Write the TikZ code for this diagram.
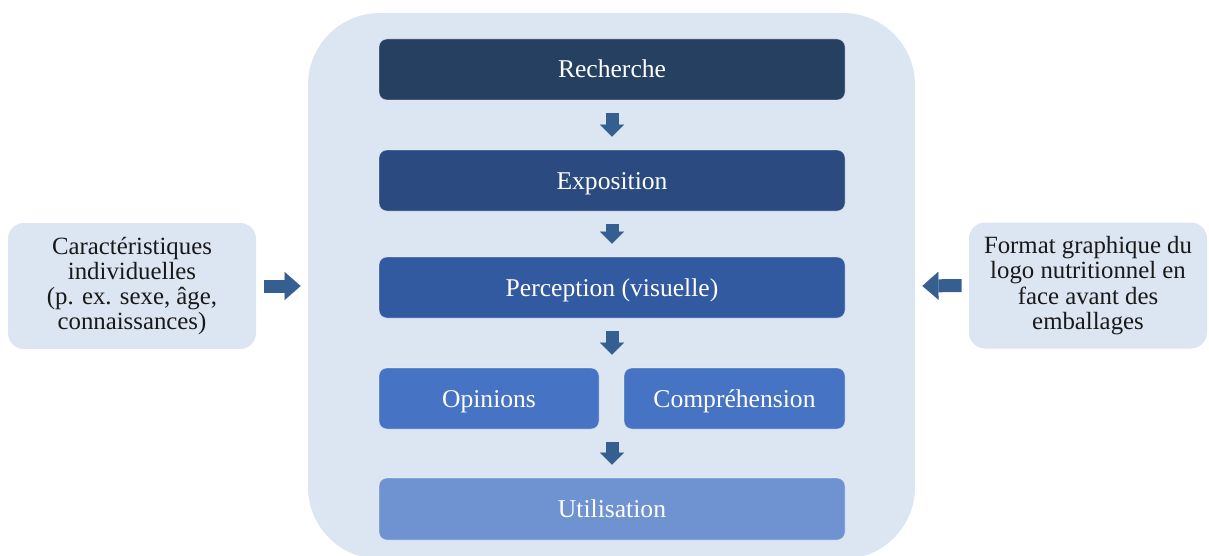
\documentclass[tikz,border=0pt]{standalone}
\usepackage{fontspec}
\setmainfont{Liberation Serif}
\usetikzlibrary{arrows.meta}
\definecolor{panelblue}{HTML}{DCE5F2}
\definecolor{stepA}{HTML}{264062}
\definecolor{stepB}{HTML}{2A4A80}
\definecolor{stepC}{HTML}{325AA0}
\definecolor{stepD}{HTML}{4673C4}
\definecolor{stepE}{HTML}{6F92D0}
\definecolor{arrowblue}{HTML}{355F91}
\tikzset{
  panelbox/.style={fill=panelblue, rounded corners=36pt, minimum width=303.5pt, minimum height=273pt, inner sep=0pt},
  stage/.style={fill=#1, draw=white, draw opacity=0.4, line width=0.4pt, rounded corners=4pt, minimum width=233pt, minimum height=30.5pt, inner sep=0pt, text height=10.5pt, text depth=2pt, text=white, font=\fontsize{12.8}{13}\selectfont},
  sidebox/.style={fill=panelblue, rounded corners=8pt, minimum height=63pt, inner sep=0pt, align=center, text=black!90, font=\fontsize{12.4}{12.6}\selectfont},
  flow/.style={draw=arrowblue, line width=6.5pt, -{Triangle[width=12pt, length=6pt, line width=0.01pt]}, shorten <=6.5pt, shorten >=6.5pt},
  feed/.style={draw=arrowblue, line width=6.5pt, -{Triangle[width=14pt, length=8pt, line width=0.01pt]}}
}
\begin{document}
\begin{tikzpicture}[x=0.5pt,y=-0.5pt]
\clip (0,0) rectangle (1209,556);
\node[panelbox] (panel) at (611.5,286) {};
\node[stage=stepA] (rech) at (612,69.5) {Recherche};
\node[stage=stepB] (expo) at (612,180.5) {Exposition};
\node[stage=stepC] (perc) at (612,287.5) {Perception (visuelle)};
\node[stage=stepD, minimum width=110pt] (opin) at (489,398.5) {Opinions};
\node[stage=stepD, minimum width=110.5pt] (compr) at (734.5,398.5) {Compréhension};
\node[stage=stepE, minimum height=31pt] (util) at (612,509) {Utilisation};
\node[sidebox, minimum width=124pt] (indiv) at (132,286) {Caractéristiques\\individuelles\\(p. ex. sexe, âge,\\connaissances)};
\node[sidebox, minimum width=119pt] (logo) at (1088,285.5) {Format graphique du\\logo nutritionnel en\\face avant des\\emballages};
\draw[flow] (rech.south) -- (expo.north);
\draw[flow] (expo.south) -- (perc.north);
\draw[flow] (perc.south) -- (perc.south |- opin.north);
\draw[flow] (util.north |- opin.south) -- (util.north);
\draw[feed, shorten <=4pt, shorten >=3.5pt] (indiv.east) -- (panel.west);
\draw[feed, shorten <=3.5pt, shorten >=3.5pt] (logo.west) -- (panel.east);
\end{tikzpicture}
\end{document}
